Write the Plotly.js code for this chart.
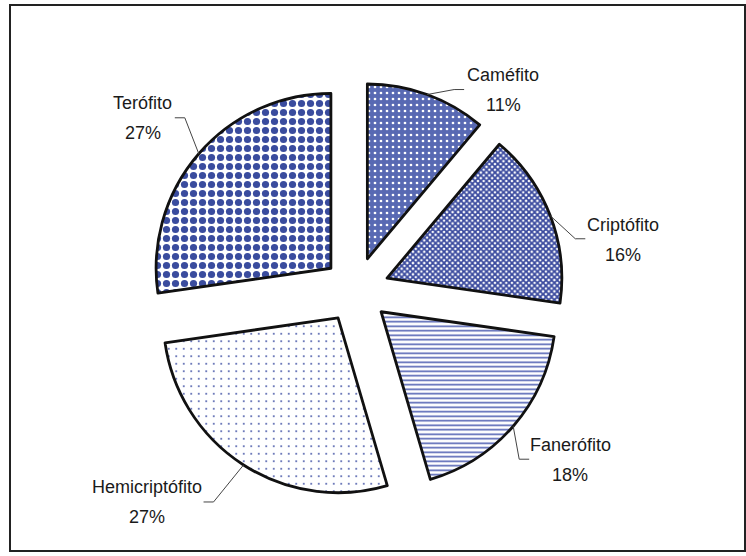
<!DOCTYPE html>
<html>
<head>
<meta charset="utf-8">
<script src="https://cdn.plot.ly/plotly-3.0.1.min.js"></script>
<style>
  html, body { margin: 0; padding: 0; background: #fff; }
  #frame { position: absolute; left: 9px; top: 4px; width: 733px; height: 544px; border: 2px solid #222; }
  #chart { position: absolute; left: 0; top: 0; width: 746px; height: 556px; }
</style>
</head>
<body>
<div id="frame"></div>
<div id="chart"></div>
<script>
// ---- data ----
const categories = ["Caméfito", "Criptófito", "Fanerófito", "Hemicriptófito", "Terófito"];
const values = [11, 16, 18, 27, 27];

// ---- styling ----
const patternShapes = [".", "x", "-", ".", "."];
const patternFg = ["#ffffff", "#3a4a9e", "#4f60b2", "#3e4fa3", "#3a4c9e"];
const patternBg = ["#5869b3", "#ffffff", "#ffffff", "#ffffff", "#ffffff"];
const patternSize = [6, 4, 4.5, 7.5, 9];
const patternSolidity = [0.16, 0.7, 0.35, 0.05, 0.5];
const pullFrac = 0.19;

// label placement: pixel offsets from each slice's outer mid-point
const leaderDx = [37, 35, 16, -40, -24];   // end of leader line
const leaderDy = [-5, 23, 33, 37, -36];
const labelDx = [76, 73, 57, -97, -56];    // centre of label block
const labelDy = [-5, 24, 34, 37, -36];
const lineGap = 15;

const W = 746, H = 556;
const M = { l: 148, r: 182, t: 82, b: 58 };
const plotW = W - M.l - M.r, plotH = H - M.t - M.b;
const font = { family: "Liberation Sans, Arial, sans-serif", size: 18, color: "#1a1a1a" };

const total = values.reduce((a, b) => a + b, 0);
const cx = M.l + plotW / 2, cy = M.t + plotH / 2;
const radius = Math.min(plotW, plotH) / 2 / (1 + pullFrac);
const toX = px => (px - M.l) / plotW;
const toY = py => 1 - (py - M.t) / plotH;

const annotations = [];
const shapes = [];
let cum = 0;
values.forEach((v, i) => {
  const mid = (cum + v / 2) / total * 2 * Math.PI;
  cum += v;
  const d = radius * (1 + pullFrac);
  const ax = cx + d * Math.sin(mid), ay = cy - d * Math.cos(mid);
  const ex = ax + leaderDx[i], ey = ay + leaderDy[i];
  const elx = ex + (leaderDx[i] > 0 ? -10 : 10);
  shapes.push({
    type: "path", xref: "paper", yref: "paper",
    path: `M ${toX(ax)},${toY(ay)} L ${toX(elx)},${toY(ey)} L ${toX(ex)},${toY(ey)}`,
    line: { color: "#444", width: 1 }
  });
  const lx = ax + labelDx[i], ly = ay + labelDy[i];
  const pct = Math.round(v / total * 100);
  annotations.push({
    xref: "paper", yref: "paper", x: toX(lx), y: toY(ly - lineGap),
    xanchor: "center", yanchor: "middle", showarrow: false,
    text: categories[i], font: font
  });
  annotations.push({
    xref: "paper", yref: "paper", x: toX(lx), y: toY(ly + lineGap),
    xanchor: "center", yanchor: "middle", showarrow: false,
    text: pct + "%", font: font
  });
});

const trace = {
  type: "pie",
  labels: categories,
  values: values,
  sort: false,
  direction: "clockwise",
  rotation: 0,
  pull: values.map(() => pullFrac),
  textinfo: "none",
  hoverinfo: "label+percent",
  marker: {
    colors: patternBg,
    line: { color: "#111", width: 2.8 },
    pattern: {
      shape: patternShapes,
      fgcolor: patternFg,
      bgcolor: patternBg,
      size: patternSize,
      solidity: patternSolidity,
      fillmode: "replace"
    }
  },
  showlegend: false
};

const layout = {
  width: W,
  height: H,
  margin: M,
  paper_bgcolor: "rgba(0,0,0,0)",
  plot_bgcolor: "rgba(0,0,0,0)",
  showlegend: false,
  annotations: annotations,
  shapes: shapes
};

Plotly.newPlot("chart", [trace], layout, { displayModeBar: false, staticPlot: true });
</script>
</body>
</html>
